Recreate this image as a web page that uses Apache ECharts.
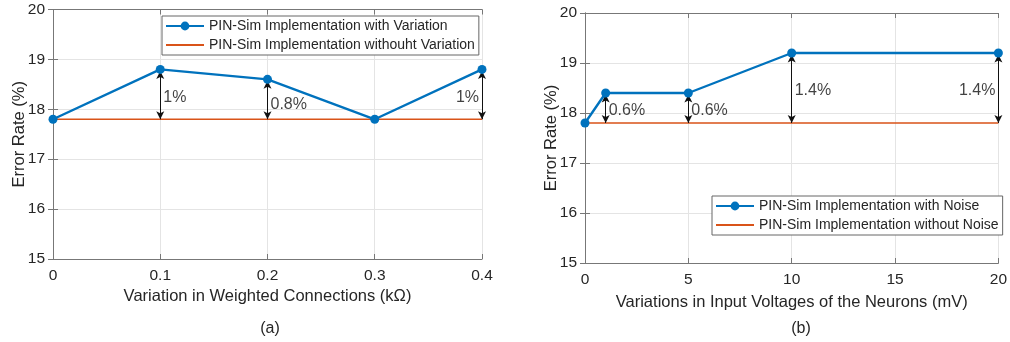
<!DOCTYPE html>
<html>
<head>
<meta charset="utf-8">
<script src="https://cdn.jsdelivr.net/npm/echarts@6/dist/echarts.min.js"></script>
<style>
html,body{margin:0;padding:0;background:#fff;}
#c{width:1010px;height:342px;}
</style>
</head>
<body>
<div id="c"></div>
<script>
// ---- Data ----
const xA = [0, 0.1, 0.2, 0.3, 0.4];
const yA = [17.8, 18.8, 18.6, 17.8, 18.8];
const baseA = [17.8, 17.8, 17.8, 17.8, 17.8];
const annXA = [0.1, 0.2, 0.4];
const annTopA = [18.8, 18.6, 18.8];
const annTextA = ['1%', '0.8%', '1%'];
const annLabelYA = [18.23, 18.1, 18.23];
const annSideA = ['right', 'right', 'left'];

const xB = [0, 1, 5, 10, 20];
const yB = [17.8, 18.4, 18.4, 19.2, 19.2];
const baseB = [17.8, 17.8, 17.8, 17.8, 17.8];
const annXB = [1, 5, 10, 20];
const annTopB = [18.4, 18.4, 19.2, 19.2];
const annTextB = ['0.6%', '0.6%', '1.4%', '1.4%'];
const annLabelYB = [18.05, 18.05, 18.45, 18.45];
const annSideB = ['right', 'right', 'right', 'left'];

const yTicks = [15, 16, 17, 18, 19, 20];
const baseLevel = 17.8;

const legendA = ['PIN-Sim Implementation with Variation', 'PIN-Sim Implementation withouht Variation'];
const legendB = ['PIN-Sim Implementation with Noise', 'PIN-Sim Implementation without Noise'];
const xNameA = 'Variation in Weighted Connections (k\u03A9)';
const xNameB = 'Variations in Input Voltages of the Neurons (mV)';
const yName = 'Error Rate (%)';

// ---- Styles ----
const FONT = '"Liberation Sans", Arial, Helvetica, sans-serif';
const BLUE = '#0072BD';
const ORANGE = '#D95319';
const AXC = '#777777';
const TXT = '#262626';

function pairs(xs, ys) { return xs.map((x, i) => [x, ys[i]]); }

function mainX(gi, min, max, interval, name, gap) {
  return {
    type: 'value', gridIndex: gi, min: min, max: max, interval: interval, position: 'bottom',
    name: name, nameLocation: 'middle', nameGap: gap, nameMoveOverlap: false,
    nameTextStyle: { fontFamily: FONT, fontSize: 16.5, color: TXT },
    axisLine: { show: true, lineStyle: { color: AXC, width: 1 } },
    axisTick: { show: true, inside: true, length: 5, lineStyle: { color: AXC } },
    axisLabel: { fontFamily: FONT, fontSize: 15.5, color: TXT, margin: 9 },
    splitLine: { show: true, lineStyle: { color: '#e4e4e4', width: 1 } }
  };
}
function topX(gi, min, max, interval) {
  return {
    type: 'value', gridIndex: gi, min: min, max: max, interval: interval, position: 'top',
    axisLine: { show: true, lineStyle: { color: AXC, width: 1 } },
    axisTick: { show: true, inside: true, length: 5, lineStyle: { color: AXC } },
    axisLabel: { show: false }, splitLine: { show: false }
  };
}
function mainY(gi, gap) {
  return {
    type: 'value', gridIndex: gi, min: 15, max: 20, interval: 1, position: 'left',
    name: yName, nameLocation: 'middle', nameGap: gap, nameMoveOverlap: false,
    nameTextStyle: { fontFamily: FONT, fontSize: 16.5, color: TXT },
    axisLine: { show: true, lineStyle: { color: AXC, width: 1 } },
    axisTick: { show: true, inside: true, length: 5, lineStyle: { color: AXC } },
    axisLabel: { fontFamily: FONT, fontSize: 15.5, color: TXT, margin: 8,
      formatter: v => yTicks.indexOf(v) >= 0 ? String(v) : '' },
    splitLine: { show: true, lineStyle: { color: '#e4e4e4', width: 1 } }
  };
}
function rightY(gi) {
  return {
    type: 'value', gridIndex: gi, min: 15, max: 20, interval: 1, position: 'right',
    axisLine: { show: true, lineStyle: { color: AXC, width: 1 } },
    axisTick: { show: true, inside: true, length: 5, lineStyle: { color: AXC } },
    axisLabel: { show: false }, splitLine: { show: false }
  };
}

function mainSeries(name, xs, ys, xi, yi) {
  return {
    name: name, type: 'line', xAxisIndex: xi, yAxisIndex: yi, data: pairs(xs, ys),
    symbol: 'circle', symbolSize: 9, showSymbol: true,
    itemStyle: { color: BLUE }, lineStyle: { color: BLUE, width: 2.4 },
    animation: false, z: 5
  };
}
function baseSeries(name, xs, ys, xi, yi, annX, annTop) {
  return {
    name: name, type: 'line', xAxisIndex: xi, yAxisIndex: yi, data: pairs(xs, ys),
    symbol: 'none', itemStyle: { color: ORANGE }, lineStyle: { color: ORANGE, width: 1.6 },
    animation: false, z: 4,
    markLine: {
      silent: true, animation: false,
      symbol: ['arrow', 'arrow'], symbolSize: [6, 8],
      lineStyle: { color: '#111', width: 1, type: 'solid' },
      label: { show: false },
      data: annX.map((x, i) => [{ coord: [x, annTop[i] - 0.03] }, { coord: [x, baseLevel] }])
    }
  };
}
function labelSeries(xs, ys, texts, sides, xi, yi) {
  return {
    type: 'scatter', xAxisIndex: xi, yAxisIndex: yi, symbolSize: 0, silent: true, animation: false,
    data: xs.map((x, i) => ({
      value: [x, ys[i]],
      label: { show: true, position: sides[i], distance: 3, formatter: texts[i],
        fontFamily: FONT, fontSize: 16, color: '#111' }
    })),
    z: 6
  };
}

function legend(left, top, names) {
  return {
    left: left, top: top, orient: 'vertical',
    data: [
      { name: names[0] },
      { name: names[1], itemStyle: { opacity: 0, borderWidth: 0 } }
    ],
    itemWidth: 38, itemHeight: 11, itemGap: 5,
    padding: [3, 4, 3, 3],
    borderColor: '#666', borderWidth: 1, backgroundColor: '#fff',
    textStyle: { fontFamily: FONT, fontSize: 14, color: TXT },
    selectedMode: false
  };
}

const chart = echarts.init(document.getElementById('c'), null, { renderer: 'canvas' });
chart.setOption({
  backgroundColor: '#fff',
  animation: false,
  title: [
    { text: '(a)', left: 265, top: 316, textAlign: 'center',
      textStyle: { fontFamily: FONT, fontSize: 16, fontWeight: 'normal', color: TXT } },
    { text: '(b)', left: 796, top: 316, textAlign: 'center',
      textStyle: { fontFamily: FONT, fontSize: 16, fontWeight: 'normal', color: TXT } }
  ],
  grid: [
    { left: 53, top: 9.5, width: 429, height: 249.5 },
    { left: 585, top: 13, width: 417, height: 250 }
  ],
  legend: [legend(162, 16, legendA), legend(712, 196, legendB)],
  xAxis: [
    mainX(0, 0, 0.4, 0.1, xNameA, 29),
    topX(0, 0, 0.4, 0.1),
    mainX(1, 0, 20, 5, xNameB, 31),
    topX(1, 0, 20, 5)
  ],
  yAxis: [
    mainY(0, 25),
    rightY(0),
    mainY(1, 25),
    rightY(1)
  ],
  series: [
    baseSeries(legendA[1], xA, baseA, 0, 0, annXA, annTopA),
    mainSeries(legendA[0], xA, yA, 0, 0),
    labelSeries(annXA, annLabelYA, annTextA, annSideA, 0, 0),
    baseSeries(legendB[1], xB, baseB, 2, 2, annXB, annTopB),
    mainSeries(legendB[0], xB, yB, 2, 2),
    labelSeries(annXB, annLabelYB, annTextB, annSideB, 2, 2)
  ]
});
</script>
</body>
</html>
